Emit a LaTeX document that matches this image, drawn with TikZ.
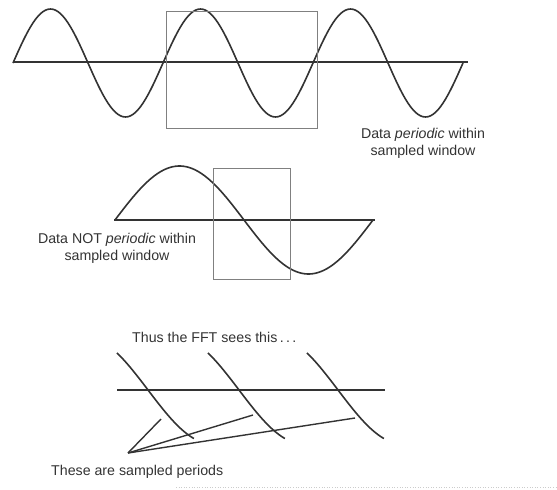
\documentclass[tikz,border=0pt]{standalone}
\usepackage{fontspec}
\setmainfont{Liberation Sans}
\usetikzlibrary{positioning}

\begin{document}
\begin{tikzpicture}[x=1pt,y=-1pt,wave/.style={line width=1.6pt,black!80,line join=round},axisline/.style={line width=1.6pt,black!80},window/.style={line width=0.9pt,black!50},pointer/.style={line width=1.4pt,black!80},caption/.style={font=\fontsize{14.2}{17}\selectfont,text=black!80,align=center,inner sep=0pt}]
\useasboundingbox (0,0) rectangle (557,490);
% periodic data
\draw[axisline] (13,62) -- (468,62);
\draw[wave] plot[domain=0:1080,samples=181] ({13+\x/360*150},{63-54*sin(\x)});
\draw[window] (166,11) rectangle (317,128);
\node[caption] (periodic) at (423,143) {Data \textit{periodic} within\\sampled window};
% not periodic data
\draw[axisline] (114,220) -- (375,220);
\draw[wave] plot[domain=0:360,samples=91] ({115+\x/360*258},{220-54*sin(\x)});
\draw[window] (213,168) rectangle (290,279);
\node[caption] (notperiodic) at (117,248) {Data NOT \textit{periodic} within\\sampled window};
% what the FFT sees
\node[caption,anchor=west] (thus) at (132,337) {Thus the FFT sees this\,.\,.\,.};
\draw[axisline] (117,390) -- (385,390);
\foreach \s in {117,208,307}
  \draw[wave] plot[domain=136.7:244,samples=30] ({\s+(\x-136.7)/360*258},{390-54*sin(\x)});
\coordinate (apex) at (128,453);
\coordinate (tipA) at (161,419);
\coordinate (tipB) at (253,415);
\coordinate (tipC) at (355,418);
\draw[pointer] (apex) -- (tipA);
\draw[pointer] (apex) -- (tipB);
\draw[pointer] (apex) -- (tipC);
\node[caption,anchor=west] (sampled) at (51,472) {These are sampled periods};
\draw[black!20,line width=0.6pt,dotted] (176,487) -- (557,487);
\end{tikzpicture}
\end{document}
